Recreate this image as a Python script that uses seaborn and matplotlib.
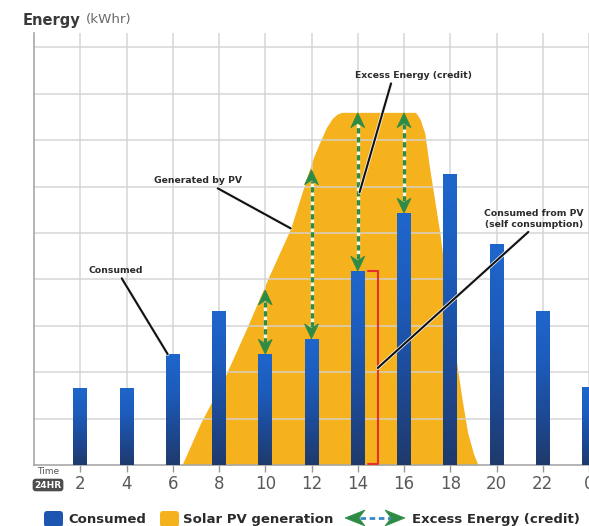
import numpy as np
import pandas as pd
import matplotlib
matplotlib.use("Agg")
import matplotlib.pyplot as plt
import seaborn as sns
from matplotlib.patches import Polygon, FancyBboxPatch
from matplotlib.colors import LinearSegmentedColormap
from matplotlib.transforms import Affine2D
import matplotlib.patheffects as pe

# ---- data -------------------------------------------------------------
hours = [2, 4, 6, 8, 10, 12, 14, 16, 18, 20, 22, 24]
hour_labels = ["2", "4", "6", "8", "10", "12", "14", "16", "18", "20", "22", "0"]
consumed = [1.66, 1.66, 2.39, 3.32, 2.39, 2.72, 4.18, 5.43, 6.27, 4.76, 3.32, 1.68]

solar_hours = [6.4, 6.8, 7.2, 8.3, 9.2, 10.1, 11.1, 11.8, 12.1, 12.4, 12.65,
               12.9, 13.1, 13.3, 16.5, 16.7, 16.9, 17.1, 17.55, 18.25, 18.5,
               18.75, 19.0, 19.2]
solar_kwh = [0.0, 0.45, 0.9, 1.95, 2.95, 4.0, 5.1, 6.2, 6.65, 7.0, 7.28,
             7.47, 7.56, 7.6, 7.6, 7.45, 7.15, 6.42, 5.0, 2.3, 1.45,
             0.7, 0.25, 0.0]

excess_hours = [10, 12, 14, 16]
excess_top = [3.77, 6.36, 7.59, 7.59]

# ---- style ------------------------------------------------------------
ORANGE = "#F6B21C"
GREEN = "#2E8B45"
RED = "#E8302A"
TXT = "#2b2b2b"
GRID = "#d2d2d2"

sns.set_theme(style="white")
plt.rcParams["font.family"] = ["DejaVu Sans"]

W, H = 589, 526
fig = plt.figure(figsize=(W / 100, H / 100), dpi=100)
fig.patch.set_facecolor("white")
ax = fig.add_axes([34 / W, 61 / H, 555 / W, 432 / H])
pix = Affine2D().scale(1 / W, -1 / H).translate(0, 1) + fig.transFigure

# consumption bars
df = pd.DataFrame({"hour": hours, "kwh": consumed})
sns.barplot(data=df, x="hour", y="kwh", native_scale=True, width=0.3,
            color="#1d56b0", saturation=1, ax=ax, zorder=3, linewidth=0)

bar_cmap = LinearSegmentedColormap.from_list(
    "bar", ["#1f3a6c", "#1d4a96", "#1c5cbc", "#1f66cc"])
grad = np.linspace(0, 1, 256).reshape(-1, 1)
for p in list(ax.patches):
    x0, y0, w, h = p.get_x(), p.get_y(), p.get_width(), p.get_height()
    im = ax.imshow(grad, extent=[x0, x0 + w, y0, y0 + h], origin="lower",
                   cmap=bar_cmap, aspect="auto", zorder=3.1,
                   interpolation="bicubic")
    im.set_clip_path(p)

# solar generation area
ax.fill_between(solar_hours, solar_kwh, 0, color=ORANGE, lw=0, zorder=1)

# axes, grid, ticks
ax.set_xlim(0, 555 / 23.15)
ax.set_ylim(0, 432 / 46.4)
ax.set_xticks(hours)
ax.set_xticklabels(hour_labels, fontsize=12, color="#5a5a5a")
ax.set_yticks(range(1, 10))
ax.set_yticklabels([])
ax.set_xlabel("")
ax.set_ylabel("")
ax.tick_params(axis="x", length=5, width=1, color="#9a9a9a", pad=2,
               direction="out", bottom=True)
ax.tick_params(axis="y", length=0, left=False)
ax.set_axisbelow("line")
ax.grid(True, color=GRID, lw=1.2, alpha=0.85)
for s in ["top", "right"]:
    ax.spines[s].set_visible(False)
for s in ["left", "bottom"]:
    ax.spines[s].set_color("#a8a8a8")
    ax.spines[s].set_linewidth(1.2)


# excess energy double arrows
def head(x, tip, d, hw=0.3, hl=0.32, notch=0.1, **kw):
    pts = [(x, tip), (x - hw, tip - d * hl), (x, tip - d * (hl - notch)),
           (x + hw, tip - d * hl)]
    ax.add_patch(Polygon(pts, closed=True, fc=GREEN, ec=GREEN, lw=0.6,
                         zorder=6, **kw))


cons_by_hour = dict(zip(hours, consumed))
for hx, top in zip(excess_hours, excess_top):
    bot = cons_by_hour[hx]
    ax.plot([hx, hx], [bot + 0.25, top - 0.25], color="#fffbe0", lw=2.4,
            zorder=5, solid_capstyle="butt")
    ax.plot([hx, hx], [bot + 0.25, top - 0.25], color=GREEN, lw=2.4,
            zorder=5.1, dashes=(1.6, 1.1))
    head(hx, top, +1)
    head(hx, bot, -1)

# self-consumption bracket on the 14:00 bar
bx = 14.86
ax.plot([14.43, bx, bx, 14.43], [cons_by_hour[14], cons_by_hour[14], 0.02, 0.02],
        color=RED, lw=1.5, zorder=4)

# callouts
line_kw = dict(arrowstyle="-", color="#111111", lw=1.5, shrinkA=0, shrinkB=0,
               path_effects=[pe.withStroke(linewidth=2.6, foreground="#f3f3f3")])
lab_kw = dict(fontsize=6.7, fontweight="bold", color=TXT, ha="center",
              va="center", zorder=8, textcoords="data")

ax.annotate("Consumed", xy=(6 - 0.22, cons_by_hour[6]), xytext=(3.52, 4.19),
            arrowprops=dict(relpos=(0.58, 0), **line_kw), **lab_kw)
ax.annotate("Generated by PV", xy=(solar_hours[6], solar_kwh[6]),
            xytext=(7.08, 6.13),
            arrowprops=dict(relpos=(0.66, 0), **line_kw), **lab_kw)
ax.annotate("Excess Energy (credit)", xy=(14.08, 5.88), xytext=(16.39, 8.39),
            arrowprops=dict(relpos=(0.32, 0), **line_kw), **lab_kw)
ax.annotate("Consumed from PV\n(self consumption)",
            xy=(bx, cons_by_hour[14] / 2), xytext=(21.62, 5.31),
            linespacing=1.3,
            arrowprops=dict(relpos=(0.48, 0), **line_kw), **lab_kw)

# title
fig.text(23, 20, "Energy", transform=pix, fontsize=10.5,
         fontweight="bold", color="#3a3a3a", va="center", ha="left")
fig.text(86, 20, "(kWhr)", transform=pix, fontsize=9.6, color="#6a6a6a",
         va="center", ha="left")

# time label under the axis
fig.text(48, 471, "Time", transform=pix, fontsize=6.5, color="#555555",
         ha="center", va="center")
fig.text(48, 485, "24HR", transform=pix, fontsize=6.5, color="white",
         fontweight="bold", ha="center", va="center",
         bbox=dict(boxstyle="round,pad=0.2,rounding_size=0.35",
                   fc="#4d4d4d", ec="none"))

# legend
leg_fs = 9.5
leg_base = 523
fig.patches.append(FancyBboxPatch((44, 511), 19, 16,
                                  boxstyle="round,pad=0,rounding_size=3",
                                  transform=pix, fc="#1d56b0", ec="none"))
fig.text(68, leg_base, "Consumed", transform=pix, fontsize=leg_fs,
         fontweight="bold", color=TXT, ha="left", va="baseline")
fig.patches.append(FancyBboxPatch((160, 511), 19, 16,
                                  boxstyle="round,pad=0,rounding_size=3",
                                  transform=pix, fc=ORANGE, ec="none"))
fig.text(183, leg_base, "Solar PV generation", transform=pix, fontsize=leg_fs,
         fontweight="bold", color=TXT, ha="left", va="baseline")

for tip, back, notch in [(345, 365, 359), (405, 385, 391)]:
    fig.patches.append(Polygon([(tip, 518), (back, 510), (notch, 518),
                                (back, 526)], closed=True, transform=pix,
                               fc=GREEN, ec=GREEN, lw=0.5))
fig.lines.append(plt.Line2D([360, 390], [518, 518], transform=pix,
                            color="#3b86c6", lw=2, dashes=(2, 1.3)))
fig.text(412, leg_base, "Excess Energy (credit)", transform=pix,
         fontsize=leg_fs, fontweight="bold", color=TXT, ha="left",
         va="baseline")

fig.savefig("out.png", dpi=100)
